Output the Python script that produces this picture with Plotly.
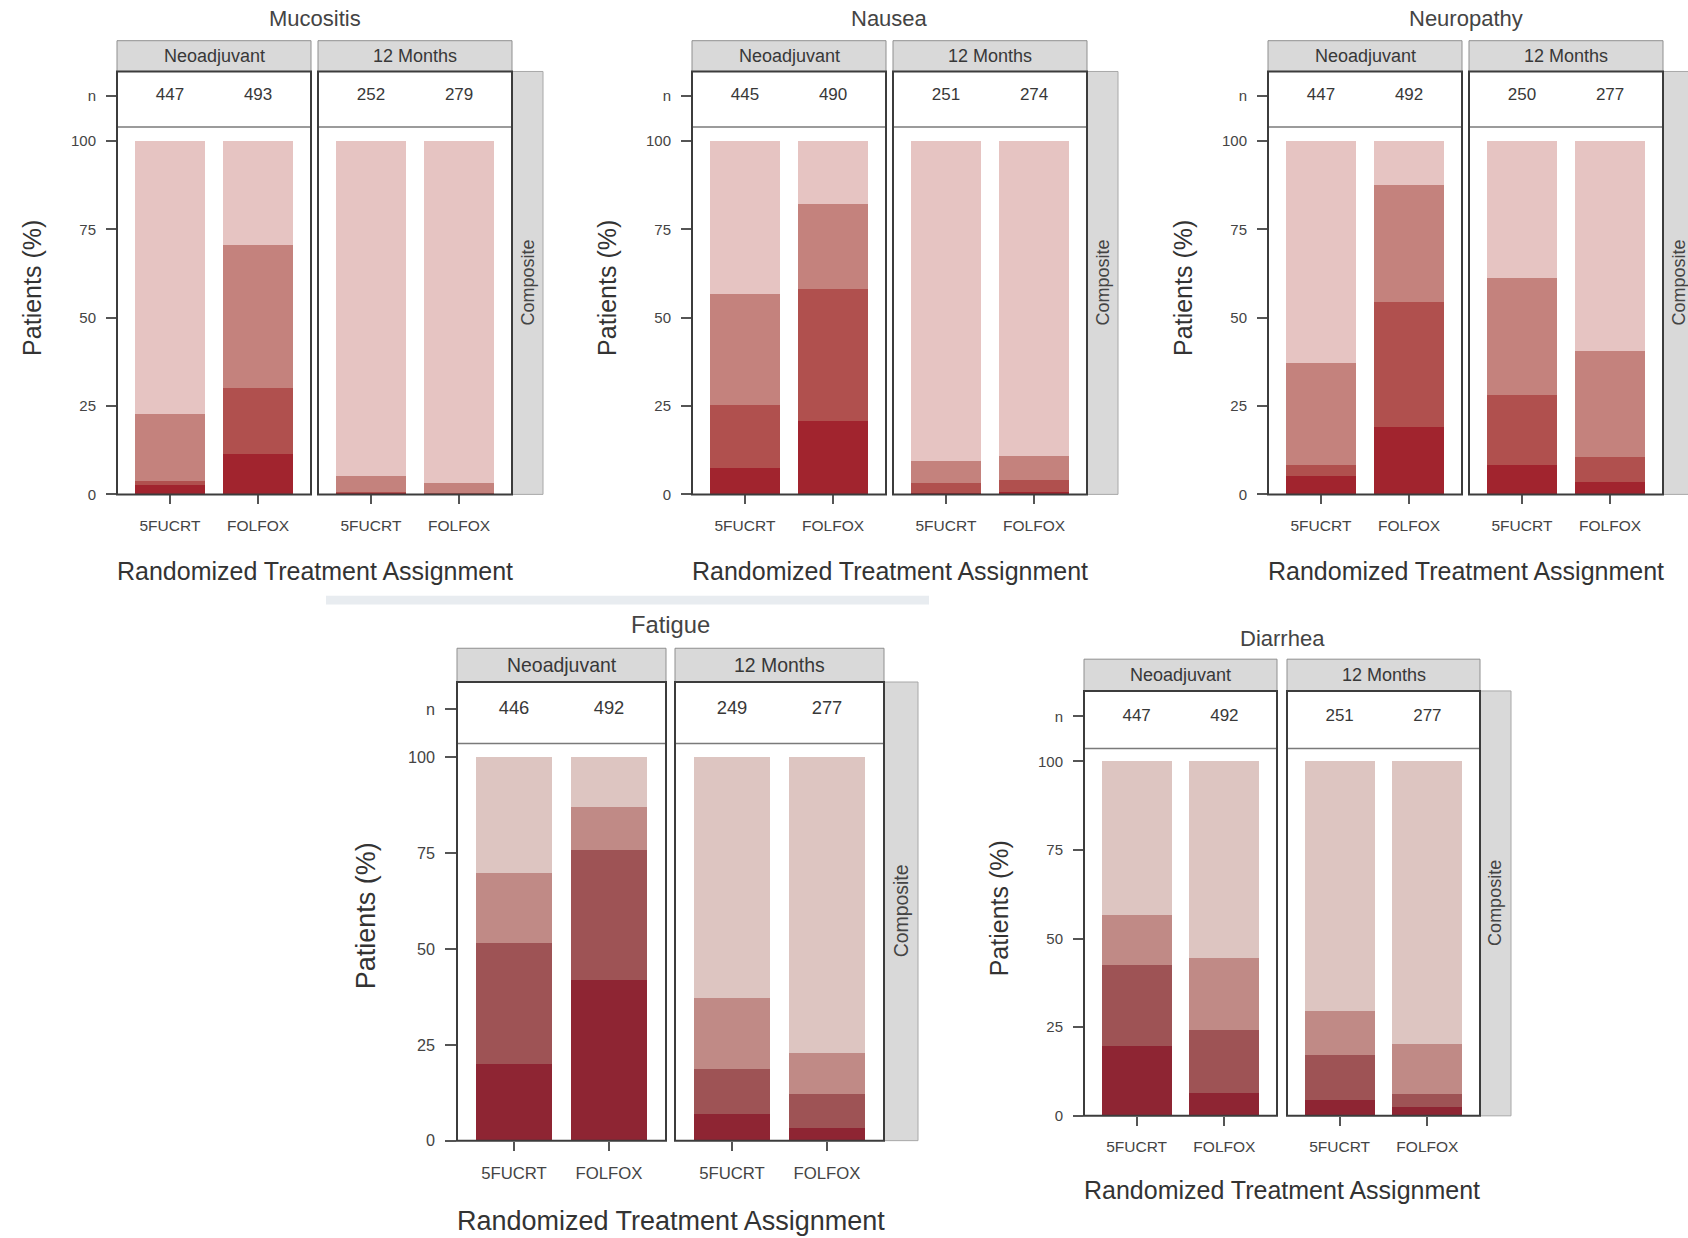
import plotly.graph_objects as go

W, H = 1688, 1238

# ---------------------------------------------------------------- data
groups = ["5FUCRT", "FOLFOX"]
phases = ["Neoadjuvant", "12 Months"]
grades = ["Grade 3+", "Grade 2", "Grade 1", "None"]  # stacked bottom -> top
toxicities = ["Mucositis", "Nausea", "Neuropathy", "Fatigue", "Diarrhea"]

# each list: [Neoadjuvant 5FUCRT, Neoadjuvant FOLFOX, 12 Months 5FUCRT, 12 Months FOLFOX]
n_mucositis = [447, 493, 252, 279]
n_nausea = [445, 490, 251, 274]
n_neuropathy = [447, 492, 250, 277]
n_fatigue = [446, 492, 249, 277]
n_diarrhea = [447, 492, 251, 277]

# patients (%) by worst grade reported
mucositis_g3 = [2.6, 11.3, 0.4, 0.0]
mucositis_g2 = [1.3, 18.9, 0.4, 0.4]
mucositis_g1 = [18.9, 40.4, 4.3, 2.7]
mucositis_g0 = [77.2, 29.4, 94.9, 96.9]

nausea_g3 = [7.5, 20.8, 0.5, 0.6]
nausea_g2 = [17.8, 37.2, 2.6, 3.4]
nausea_g1 = [31.4, 24.2, 6.3, 6.8]
nausea_g0 = [43.3, 17.8, 90.6, 89.2]

neuropathy_g3 = [5.2, 19.2, 8.3, 3.4]
neuropathy_g2 = [3.0, 35.3, 19.9, 7.3]
neuropathy_g1 = [29.1, 33.1, 32.9, 29.8]
neuropathy_g0 = [62.7, 12.4, 38.9, 59.5]

fatigue_g3 = [19.9, 41.8, 6.9, 3.4]
fatigue_g2 = [31.7, 34.1, 11.9, 8.8]
fatigue_g1 = [18.3, 11.1, 18.4, 10.7]
fatigue_g0 = [30.1, 13.0, 62.8, 77.1]

diarrhea_g3 = [19.7, 6.3, 4.5, 2.4]
diarrhea_g2 = [22.8, 18.0, 12.8, 3.7]
diarrhea_g1 = [14.2, 20.3, 12.4, 14.2]
diarrhea_g0 = [43.3, 55.4, 70.3, 79.7]

y_ticks = [0, 25, 50, 75, 100]

n_by_tox = [n_mucositis, n_nausea, n_neuropathy, n_fatigue, n_diarrhea]
pct_by_tox = [
    [mucositis_g3, mucositis_g2, mucositis_g1, mucositis_g0],
    [nausea_g3, nausea_g2, nausea_g1, nausea_g0],
    [neuropathy_g3, neuropathy_g2, neuropathy_g1, neuropathy_g0],
    [fatigue_g3, fatigue_g2, fatigue_g1, fatigue_g0],
    [diarrhea_g3, diarrhea_g2, diarrhea_g1, diarrhea_g0],
]

# ---------------------------------------------------------------- styling / geometry (pixels)
pal_top = ["#a1242e", "#b0504e", "#c4827d", "#e6c4c2"]
pal_bottom = ["#8e2533", "#9e5355", "#c08a86", "#ddc5c1"]

# facet x extents, composite strip, and vertical landmarks for every panel
geo = [
    dict(facets=[(117, 311), (318, 512)], comp=(512, 543), strip=(41, 72), nbot=128,
         y0=498, y100=142, title_y=19, xlab_y=575, ylab_x=32, s=1.0, pal=pal_top),
    dict(facets=[(692, 886), (893, 1087)], comp=(1087, 1118), strip=(41, 72), nbot=128,
         y0=498, y100=142, title_y=19, xlab_y=575, ylab_x=607, s=1.0, pal=pal_top),
    dict(facets=[(1268, 1462), (1469, 1663)], comp=(1663, 1694), strip=(41, 72), nbot=128,
         y0=498, y100=142, title_y=19, xlab_y=575, ylab_x=1183, s=1.0, pal=pal_top),
    dict(facets=[(457, 666), (675, 884)], comp=(884, 918), strip=(653, 687), nbot=749,
         y0=1149, y100=763, title_y=629, xlab_y=1230, ylab_x=366, s=1.08, pal=pal_bottom),
    dict(facets=[(1084, 1277), (1287, 1480)], comp=(1480, 1511), strip=(664, 696), nbot=754,
         y0=1124, y100=767, title_y=643, xlab_y=1199, ylab_x=999, s=1.0, pal=pal_bottom),
]

FONT = "Liberation Sans, Arial, sans-serif"
TXT = "#383838"
N_ROW_Y = 0.56  # vertical position of the n labels inside their band


def px(x):
    return x / W


def py(y):
    return 1 - y / H


fig = go.Figure()
layout = dict(
    width=W, height=H, margin=dict(l=0, r=0, t=0, b=0),
    paper_bgcolor="white", plot_bgcolor="rgba(0,0,0,0)",
    barmode="stack", showlegend=False,
    font=dict(family=FONT, color=TXT),
)
shapes, annotations = [], []

k = 0
for t, tox in enumerate(toxicities):
    g = geo[t]
    s = g["s"]
    unit = (g["y0"] - g["y100"]) / 100.0
    ytop = (g["y0"] - g["nbot"]) / unit
    for f, phase in enumerate(phases):
        k += 1
        n_id = 10 + k
        xa, xb = g["facets"][f]
        cols = [2 * f, 2 * f + 1]

        # stacked bars, one trace per grade
        for gi, grade in enumerate(grades):
            vals = [pct_by_tox[t][gi][c] for c in cols]
            fig.add_trace(go.Bar(
                x=[0, 1], y=vals, width=0.8, name=grade,
                marker=dict(color=g["pal"][gi], line=dict(width=0)),
                xaxis=f"x{k}", yaxis=f"y{k}",
                hovertemplate=f"{tox} {phase}<br>%{{text}}<br>{grade}: %{{y}}%<extra></extra>",
                text=groups, textposition="none",
            ))
        # n row
        fig.add_trace(go.Scatter(
            x=[0, 1], y=[N_ROW_Y, N_ROW_Y], mode="text",
            text=[str(n_by_tox[t][c]) for c in cols],
            textfont=dict(size=17 * s, color=TXT, family=FONT),
            xaxis=f"x{k}", yaxis=f"y{n_id}", hoverinfo="skip",
        ))

        left = f == 0
        layout[f"xaxis{k}"] = dict(
            domain=[px(xa), px(xb)], range=[-0.6, 1.6], anchor=f"y{k}",
            tickvals=[0, 1], ticktext=groups, ticks="outside", ticklen=9 * s,
            tickwidth=1.5, tickcolor="#555", ticklabelstandoff=int(8 * s),
            tickfont=dict(size=15.5 * s, color="#444", family=FONT),
            showgrid=False, zeroline=False, showline=False, fixedrange=True,
        )
        layout[f"yaxis{k}"] = dict(
            domain=[py(g["y0"]), py(g["nbot"])], range=[0, ytop], anchor=f"x{k}",
            tickvals=y_ticks if left else [], ticks="outside" if left else "",
            ticklen=10 * s, tickwidth=1.5, tickcolor="#555",
            ticklabelstandoff=int(7 * s), showticklabels=left,
            tickfont=dict(size=15 * s, color="#444", family=FONT),
            showgrid=False, zeroline=False, showline=False, fixedrange=True,
        )
        layout[f"yaxis{n_id}"] = dict(
            domain=[py(g["nbot"]), py(g["strip"][1])], range=[0, 1], anchor=f"x{k}",
            tickvals=[N_ROW_Y] if left else [], ticktext=["n"],
            ticks="outside" if left else "", ticklen=10 * s, tickwidth=1.5,
            tickcolor="#555", ticklabelstandoff=int(7 * s), showticklabels=left,
            tickfont=dict(size=15 * s, color="#444", family=FONT),
            showgrid=False, zeroline=False, showline=False, fixedrange=True,
        )

        # strip header
        shapes.append(dict(type="rect", xref="paper", yref="paper",
                           x0=px(xa), x1=px(xb), y0=py(g["strip"][1]), y1=py(g["strip"][0]),
                           fillcolor="#d9d9d9", line=dict(color="#8f8f8f", width=1), layer="below"))
        annotations.append(dict(text=phase, xref="paper", yref="paper",
                                x=px((xa + xb) / 2), y=py((g["strip"][0] + g["strip"][1]) / 2),
                                showarrow=False, xanchor="center", yanchor="middle",
                                font=dict(size=18 * s, color=TXT, family=FONT)))
        # divider between n row and bars
        shapes.append(dict(type="line", xref="paper", yref="paper",
                           x0=px(xa), x1=px(xb), y0=py(g["nbot"]), y1=py(g["nbot"]),
                           line=dict(color="#7a7a7a", width=1.5), layer="above"))
        # panel frame
        shapes.append(dict(type="rect", xref="paper", yref="paper",
                           x0=px(xa), x1=px(xb), y0=py(g["y0"]), y1=py(g["strip"][1]),
                           line=dict(color="#3c3c3c", width=2), layer="above"))

    # composite strip on the right
    ca, cb = g["comp"]
    shapes.append(dict(type="rect", xref="paper", yref="paper",
                       x0=px(ca), x1=px(cb), y0=py(g["y0"]), y1=py(g["strip"][1]),
                       fillcolor="#d9d9d9", line=dict(color="#a8a8a8", width=1), layer="below"))
    annotations.append(dict(text="Composite", xref="paper", yref="paper",
                            x=px((ca + cb) / 2), y=py((g["strip"][1] + g["y0"]) / 2),
                            textangle=-90, showarrow=False, xanchor="center", yanchor="middle",
                            font=dict(size=18 * s, color="#444", family=FONT)))

    # titles
    cx = (g["facets"][0][0] + g["facets"][1][1]) / 2
    annotations.append(dict(text=tox, xref="paper", yref="paper", x=px(cx), y=py(g["title_y"]),
                            showarrow=False, xanchor="center", yanchor="middle",
                            font=dict(size=22 * s, color="#444", family=FONT)))
    annotations.append(dict(text="Randomized Treatment Assignment", xref="paper", yref="paper",
                            x=px(cx), y=py(g["xlab_y"]), showarrow=False,
                            xanchor="center", yanchor="middle",
                            font=dict(size=25 * s, color="#333", family=FONT)))
    annotations.append(dict(text="Patients (%)", xref="paper", yref="paper",
                            x=px(g["ylab_x"]), y=py((g["y0"] + g["strip"][1]) / 2 + 5),
                            textangle=-90, showarrow=False, xanchor="center", yanchor="middle",
                            font=dict(size=25 * s, color="#333", family=FONT)))

# faint separator band between the rows
shapes.append(dict(type="rect", xref="paper", yref="paper",
                   x0=px(326), x1=px(929), y0=py(609), y1=py(600),
                   fillcolor="#e8ecf0", line=dict(width=0), layer="below"))

layout["shapes"] = shapes
layout["annotations"] = annotations
fig.update_layout(**layout)
fig.write_html("out.html")
